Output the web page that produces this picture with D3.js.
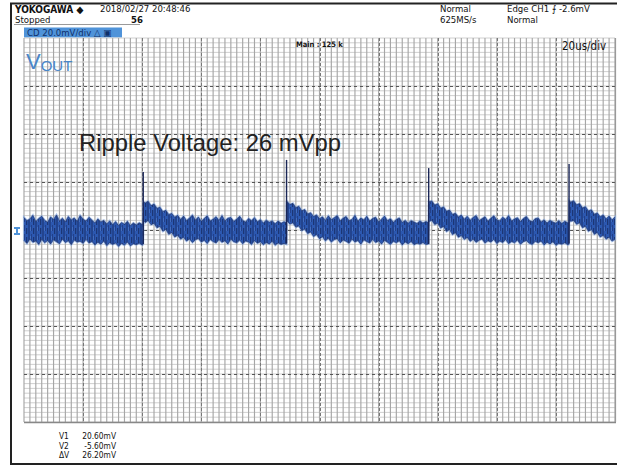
<!DOCTYPE html>
<html><head><meta charset="utf-8">
<script src="https://cdn.jsdelivr.net/npm/d3@7"></script>
<style>
html,body{margin:0;padding:0;background:#fff;}
svg{display:block;}
.mono{font-family:"Liberation Sans Narrow","DejaVu Sans Condensed","Liberation Sans",sans-serif;}
</style></head>
<body>
<svg id="c" width="617" height="466"></svg>
<script>
// ---------- data ----------
const timeUs = [0,1,2,3,4,5,6,7,8,9,10,11,12,13,14,15,16,17,18,19,20,21,22,23,24,25,26,27,28,29,30,31,32,33,34,35,36,37,38,39,40,
  40.3,40.4,
  41,42,43,44,45,46,47,48,49,50,51,52,53,54,55,56,57,58,59,60,61,62,63,64,65,66,67,68,69,70,71,72,73,74,75,76,77,78,79,80,81,82,83,84,85,86,87,88,
  88.8,88.9,
  89,90,91,92,93,94,95,96,97,98,99,100,101,102,103,104,105,106,107,108,109,110,111,112,113,114,115,116,117,118,119,120,121,122,123,124,125,126,127,128,129,130,131,132,133,134,135,136,
  136.9,
  137,138,139,140,141,142,143,144,145,146,147,148,149,150,151,152,153,154,155,156,157,158,159,160,161,162,163,164,165,166,167,168,169,170,171,172,173,174,175,176,177,178,179,180,181,182,183,184,
  184.4,184.5,
  185,186,187,188,189,190,191,192,193,194,195,196,197,198,199,200];
const envTop = [5.2,3.9,4.6,6.1,3.5,4.8,5.7,4.0,3.2,5.4,4.4,6.3,3.8,4.9,3.4,5.6,4.2,5.0,3.6,6.0,4.5,3.7,5.3,4.1,2.9,4.6,3.3,4.0,2.5,3.8,2.2,3.5,1.9,3.1,2.4,3.6,1.8,2.9,2.1,3.0,2.3,
  2.6,11.8,
  11.2,12.0,10.1,10.8,9.0,9.5,7.6,8.2,6.4,6.9,5.3,6.1,4.4,5.8,3.9,5.0,6.2,4.1,5.4,3.6,4.8,5.9,3.7,4.5,5.5,4.0,6.0,3.8,4.9,5.2,3.5,4.6,5.7,4.0,3.3,4.8,3.9,5.1,3.4,4.3,2.9,4.1,3.2,3.8,2.6,3.7,2.8,3.4,
  3.0,11.5,
  11.9,10.6,11.1,9.3,9.9,8.0,8.5,6.7,7.2,5.6,6.3,4.7,5.5,4.0,5.9,4.3,5.1,6.0,3.8,4.9,5.6,3.9,4.4,6.1,3.6,5.0,4.2,5.7,3.7,4.8,5.3,3.4,4.5,5.8,3.9,4.7,3.2,4.4,5.0,3.1,4.0,2.8,3.9,3.3,2.7,3.8,2.9,3.5,
  3.1,
  11.7,12.1,10.4,10.9,9.1,9.6,7.8,8.3,6.5,7.0,5.4,6.2,4.5,5.7,4.1,5.2,6.0,3.9,4.7,5.5,3.6,4.9,5.9,4.2,3.8,5.3,4.4,6.0,3.7,4.6,5.1,3.5,4.8,5.6,4.0,3.4,4.7,5.0,3.3,4.2,2.9,4.0,3.3,2.8,3.9,2.7,3.6,3.0,
  3.0,12.3,
  11.6,12.2,10.5,11.0,9.2,9.7,7.9,8.4,6.6,7.1,5.5,6.3,4.6,5.8,4.2,5.4];
const envBottom = [-4.3,-5.6,-3.7,-5.1,-4.6,-6.0,-3.9,-5.3,-4.4,-5.8,-4.1,-4.9,-5.7,-3.8,-5.2,-4.5,-6.1,-4.2,-5.0,-4.7,-5.5,-3.9,-5.4,-4.8,-6.2,-5.1,-5.9,-4.6,-6.5,-5.3,-6.0,-5.4,-6.8,-5.6,-6.3,-5.0,-6.6,-5.7,-6.1,-5.5,-6.2,
  -6.0,3.9,
  3.1,4.0,2.2,2.8,0.9,1.6,-0.5,0.3,-1.8,-1.0,-2.9,-2.2,-3.8,-3.0,-4.6,-3.7,-5.2,-4.1,-3.5,-5.0,-4.3,-5.6,-3.9,-4.8,-5.4,-4.0,-5.1,-4.5,-5.8,-3.8,-4.9,-5.3,-4.2,-5.7,-4.6,-5.0,-6.0,-4.4,-5.5,-4.9,-6.1,-5.2,-5.8,-4.7,-6.3,-5.4,-6.0,-5.6,
  -5.9,4.0,
  3.8,2.5,3.0,1.2,1.7,-0.2,0.4,-1.5,-0.8,-2.7,-1.9,-3.6,-2.8,-4.5,-3.4,-5.0,-4.0,-3.6,-5.3,-4.2,-4.7,-5.5,-3.8,-5.0,-4.4,-5.9,-4.1,-4.8,-5.4,-3.9,-5.2,-4.6,-5.8,-4.3,-5.1,-6.0,-4.7,-5.3,-4.5,-6.2,-5.0,-5.7,-4.8,-6.1,-5.5,-5.9,-5.2,-6.0,
  -5.8,
  3.5,4.1,2.3,2.9,0.8,1.5,-0.6,0.2,-1.9,-1.1,-3.0,-2.3,-3.9,-3.1,-4.7,-3.8,-5.1,-4.3,-3.7,-5.4,-4.5,-5.0,-3.9,-5.6,-4.6,-5.2,-4.0,-5.7,-4.8,-5.3,-4.2,-5.9,-4.9,-4.4,-5.5,-6.0,-4.7,-5.3,-4.6,-6.2,-5.1,-5.8,-4.9,-6.3,-5.6,-5.9,-5.3,-6.1,
  -5.9,4.2,
  3.6,4.0,2.4,3.0,0.9,1.6,-0.5,0.3,-1.8,-1.0,-2.9,-2.2,-3.8,-3.0,-4.6,-3.9];
const spikeTimes = [40.35, 88.85, 136.95, 184.45];
const spikePeaks = [24.2, 29.2, 25.8, 27.5];
const spikeLows  = [-5.8, -5.6, -5.8, -5.6];
const timeDomain = [0, 200];      // us, 20us/div
const voltDomain = [-80, 80];     // mV, 20mV/div
const headerLeft  = ["YOKOGAWA ◆", "2018/02/27 20:48:46", "Stopped", "56"];
const headerRight = ["Normal", "625MS/s", "Edge CH1 ⨍ -2.6mV", "Normal"];
const channelLabel = "CD 20.0mV/div △ ▣";
const cursorLabels = ["V1", "V2", "ΔV"];
const cursorValues = ["20.60mV", "-5.60mV", "26.20mV"];
const titleText = "Ripple Voltage: 26 mVpp";

// ---------- drawing ----------
const svg = d3.select("#c");
const L = 24, R = 615, T = 38, B = 422;
const x = d3.scaleLinear().domain(timeDomain).range([L, R]);
const y = d3.scaleLinear().domain(voltDomain).range([B, T]);

// frame
svg.append("rect").attr("x",0).attr("y",0).attr("width",617).attr("height",466).attr("fill","#fff");
svg.append("line").attr("x1",10).attr("x2",617).attr("y1",3.5).attr("y2",3.5).attr("stroke","#222").attr("stroke-width",2);
svg.append("line").attr("x1",11).attr("x2",11).attr("y1",3).attr("y2",465).attr("stroke","#222").attr("stroke-width",2);
svg.append("line").attr("x1",10).attr("x2",617).attr("y1",464).attr("y2",464).attr("stroke","#222").attr("stroke-width",2);

// header
const hdr = svg.append("g").attr("class","mono").attr("fill","#111");
hdr.append("text").attr("x",15).attr("y",13).attr("font-size",10).attr("font-weight","bold").text(headerLeft[0]);
hdr.append("text").attr("x",100).attr("y",12).attr("font-size",9.5).text(headerLeft[1]);
hdr.append("text").attr("x",15).attr("y",22.5).attr("font-size",9.5).text(headerLeft[2]);
hdr.append("text").attr("x",131).attr("y",22.5).attr("font-size",9.5).attr("font-weight","bold").text(headerLeft[3]);
hdr.append("text").attr("x",440).attr("y",12).attr("font-size",9.5).text(headerRight[0]);
hdr.append("text").attr("x",440).attr("y",22.5).attr("font-size",9.5).text(headerRight[1]);
hdr.append("text").attr("x",507).attr("y",12).attr("font-size",9.5).text(headerRight[2]);
hdr.append("text").attr("x",507).attr("y",22.5).attr("font-size",9.5).text(headerRight[3]);
svg.append("line").attr("x1",14).attr("x2",140).attr("y1",24.5).attr("y2",24.5).attr("stroke","#555").attr("stroke-width",0.6);

// channel bar
svg.append("rect").attr("x",24).attr("y",27.5).attr("width",98).attr("height",10).attr("fill","#4f93d9");
svg.append("text").attr("class","mono").attr("x",27).attr("y",35.8).attr("font-size",9.5).attr("fill","#10306a").text(channelLabel);

// grid
const g = svg.append("g");
const minorT = d3.range(timeDomain[0], timeDomain[1] + 0.001, 2);
const minorV = d3.range(voltDomain[0], voltDomain[1] + 0.001, 2);
g.selectAll(".hm").data(minorV).join("line")
  .attr("x1",L).attr("x2",R).attr("y1",d=>y(d)).attr("y2",d=>y(d))
  .attr("stroke","#cbcbcb").attr("stroke-width",0.9);
g.selectAll(".vm").data(minorT).join("line")
  .attr("x1",d=>x(d)).attr("x2",d=>x(d)).attr("y1",T).attr("y2",B)
  .attr("stroke","#a6a6a6").attr("stroke-width",1.15);
const majorT = d3.range(timeDomain[0], timeDomain[1] + 0.001, 20);
const majorV = d3.range(voltDomain[0], voltDomain[1] + 0.001, 20);
g.selectAll(".vM").data(majorT.slice(1,-1)).join("line")
  .attr("x1",d=>Math.round(x(d))+0.5).attr("x2",d=>Math.round(x(d))+0.5).attr("y1",T).attr("y2",B)
  .attr("stroke","#777").attr("stroke-width",1).attr("stroke-dasharray","3,2");
g.selectAll(".hM").data(majorV.slice(1,-1)).join("line")
  .attr("x1",L).attr("x2",R).attr("y1",d=>Math.round(y(d))+0.5).attr("y2",d=>Math.round(y(d))+0.5)
  .attr("stroke","#555").attr("stroke-width",1).attr("stroke-dasharray","3,3");
g.append("line").attr("x1",L).attr("x2",R+1).attr("y1",B+0.5).attr("y2",B+0.5).attr("stroke","#888").attr("stroke-width",1.6);
g.append("line").attr("x1",R+0.5).attr("x2",R+0.5).attr("y1",T).attr("y2",B).attr("stroke","#999").attr("stroke-width",1.2);

// labels over grid
svg.append("text").attr("class","mono").attr("x",296).attr("y",47).attr("font-size",7.5).attr("font-weight","bold").attr("fill","#111").text("Main : 125 k");
svg.append("text").attr("class","mono").attr("x",562).attr("y",50).attr("font-size",11.5).attr("fill","#111").text("20us/div");
const vout = svg.append("text").attr("x",26).attr("y",68.5).attr("fill","#4a86c8").attr("font-family","Liberation Sans, Arial, sans-serif");
vout.append("tspan").attr("font-size",22).text("V");
vout.append("tspan").attr("font-size",15).attr("dy",2.5).text("OUT");
svg.append("text").attr("x",79).attr("y",150.5).attr("font-size",23.8).attr("fill","#222")
  .attr("font-family","Liberation Sans, Arial, sans-serif").text(titleText);

// trace texture
const defs = svg.append("defs");
const pat = defs.append("pattern").attr("id","noise").attr("patternUnits","userSpaceOnUse").attr("width",7).attr("height",9);
pat.append("rect").attr("width",7).attr("height",9).attr("fill","#2c58b0");
pat.append("rect").attr("x",0.5).attr("width",1).attr("height",9).attr("fill","#1a306c");
pat.append("rect").attr("x",3.2).attr("width",0.8).attr("height",6).attr("fill","#1f3a80");
pat.append("rect").attr("x",5.2).attr("y",3).attr("width",1).attr("height",6).attr("fill","#172d66");
pat.append("rect").attr("x",2).attr("y",2).attr("width",0.7).attr("height",4).attr("fill","#4a78c8");

const pts = timeUs.map((t,i)=>({t, top:envTop[i], bot:envBottom[i]}));
const area = d3.area().x(d=>x(d.t)).y0(d=>y(d.bot)).y1(d=>y(d.top));
svg.append("path").datum(pts).attr("d",area).attr("fill","#7fa4de").attr("stroke","#86a9e0").attr("stroke-width",2.2).attr("opacity",0.7);
svg.append("path").datum(pts).attr("d",area).attr("fill","url(#noise)");
const lineTop = d3.line().x(d=>x(d.t)).y(d=>y(d.top));
const lineBot = d3.line().x(d=>x(d.t)).y(d=>y(d.bot));
svg.append("path").datum(pts).attr("d",lineTop).attr("fill","none").attr("stroke","#1c2f66").attr("stroke-width",0.8).attr("opacity",0.75);
svg.append("path").datum(pts).attr("d",lineBot).attr("fill","none").attr("stroke","#1c2f66").attr("stroke-width",0.8).attr("opacity",0.75);

// spikes
svg.selectAll(".sp").data(spikeTimes).join("line")
  .attr("x1",d=>x(d)).attr("x2",d=>x(d))
  .attr("y1",(d,i)=>y(spikePeaks[i])).attr("y2",(d,i)=>y(spikeLows[i]))
  .attr("stroke","#1a2656").attr("stroke-width",1.4);

// trigger marker
svg.append("path").attr("d","M14,227 h6 v2 h-2 v4 h2 v2 h-6 v-2 h2 v-4 h-2 z").attr("fill","#4f93d9");

// cursor readout
const cr = svg.append("g").attr("class","mono").attr("font-size",8.3).attr("fill","#111");
cursorLabels.forEach((lab,i)=>{
  cr.append("text").attr("x",59).attr("y",439+i*9.5).text(lab);
  cr.append("text").attr("x",116).attr("y",439+i*9.5).attr("text-anchor","end").text(cursorValues[i]);
});
</script>
</body></html>
